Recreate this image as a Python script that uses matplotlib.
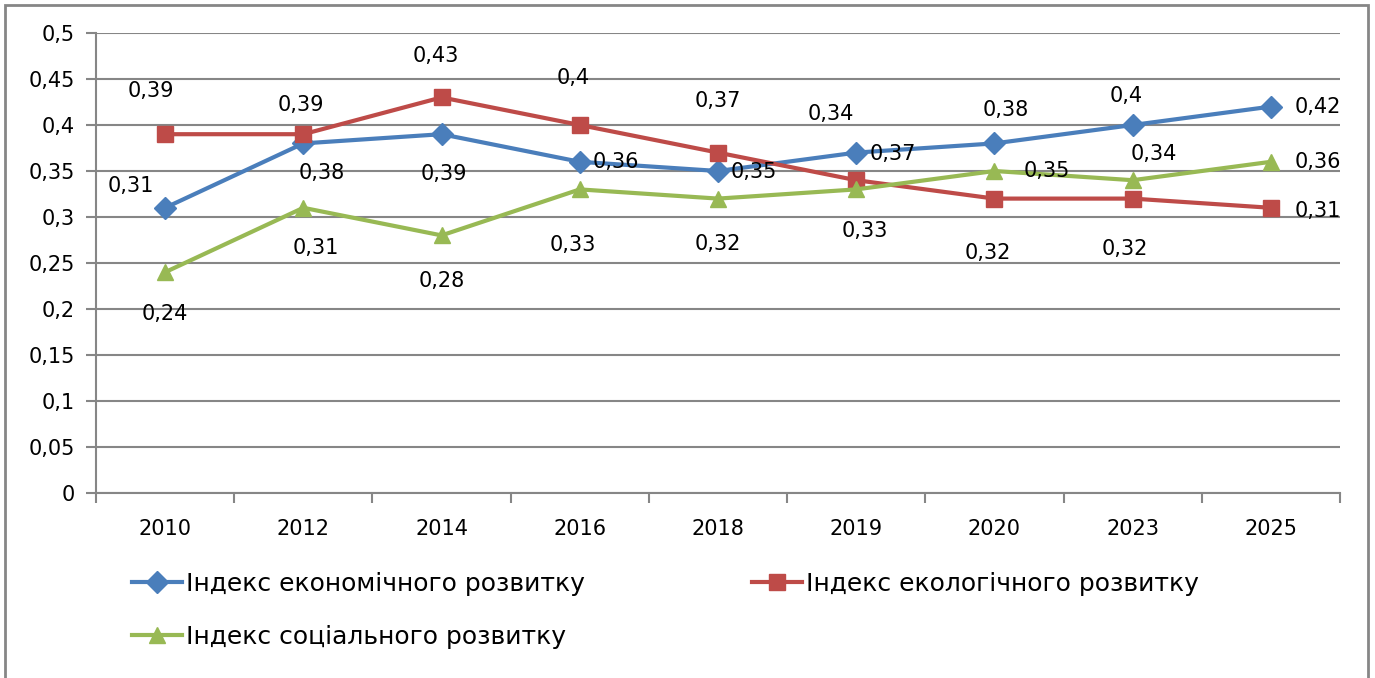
import matplotlib.pyplot as plt
from matplotlib.lines import Line2D
from matplotlib.patches import Rectangle

# Data

years = ["2010", "2012", "2014", "2016", "2018", "2019", "2020", "2023", "2025"]
econ = [0.31, 0.38, 0.39, 0.36, 0.35, 0.37, 0.38, 0.40, 0.42]
ecol = [0.39, 0.39, 0.43, 0.40, 0.37, 0.34, 0.32, 0.32, 0.31]
social = [0.24, 0.31, 0.28, 0.33, 0.32, 0.33, 0.35, 0.34, 0.36]

names = ["Індекс економічного розвитку",
         "Індекс екологічного розвитку",
         "Індекс соціального розвитку"]

# label offsets in points (dx, dy) for each point
econ_off = [(-25, 16), (13, -21), (2, -29), (26, 0), (26, -1), (26, -1), (8, 24), (-5, 21), (34, 0)]
ecol_off = [(-10, 31), (-2, 21), (-4, 30), (-5, 34), (0, 37), (-18, 48), (-5, -39), (-6, -36), (34, -2)]
soc_off = [(0, -30), (9, -29), (0, -33), (-5, -40), (0, -33), (6, -30), (38, 0), (15, 19), (34, 0)]

BLUE = "#4a7ebb"
RED = "#be4b48"
GREEN = "#98b954"
GRID = "#868686"

plt.rcParams['font.family'] = ['DejaVu Sans']

fig = plt.figure(figsize=(13.75, 6.78), dpi=100)
ax = fig.add_axes([96 / 1375, 1 - 493 / 678, (1340 - 96) / 1375, (493 - 33) / 678])

x = list(range(len(years)))
series = [(econ, BLUE, "D", 11, econ_off),
          (ecol, RED, "s", 11, ecol_off),
          (social, GREEN, "^", 12, soc_off)]

for vals, col, mk, ms, offs in series:
    ax.plot(x, vals, color=col, linewidth=3, marker=mk, markersize=ms, zorder=3)
    for xi, v, (dx, dy) in zip(x, vals, offs):
        lab = ("%g" % v).replace(".", ",")
        ax.annotate(lab, (xi, v), xytext=(dx, dy), textcoords="offset points",
                    ha="center", va="center", fontsize=15, color="black", zorder=4)

ax.set_xlim(-0.5, 8.5)
ax.set_ylim(0, 0.5)
ax.set_yticks([i * 0.05 for i in range(11)])
ax.set_yticklabels(["0", "0,05", "0,1", "0,15", "0,2", "0,25", "0,3", "0,35", "0,4", "0,45", "0,5"])
ax.set_xticks(x)
ax.set_xticklabels(years)
ax.set_xticks([i - 0.5 for i in range(len(years) + 1)], minor=True)
ax.tick_params(axis="x", which="major", length=0, pad=19, labelsize=15)
ax.tick_params(axis="x", which="minor", length=7, width=1.5, color=GRID)
ax.tick_params(axis="y", length=7, width=1.5, color=GRID, pad=8, labelsize=15)
ax.grid(axis="y", color=GRID, linewidth=1.5)
ax.set_axisbelow(True)
for s in ["top", "right"]:
    ax.spines[s].set_visible(False)
for s in ["left", "bottom"]:
    ax.spines[s].set_color(GRID)
    ax.spines[s].set_linewidth(1.5)

# legend
handles = [Line2D([], [], color=c, linewidth=3, marker=m, markersize=ms)
           for (_, c, m, ms, _) in series]
order = [0, 2, 1]
fig.legend([handles[i] for i in order], [names[i] for i in order],
           ncol=2, loc="upper left", bbox_to_anchor=(122 / 1375, 1 - 562 / 678),
           frameon=False, fontsize=18, handlelength=2.0, handletextpad=0.15,
           columnspacing=6.7, labelspacing=1.15, borderaxespad=0)

# outer frame
fig.patches.append(Rectangle((5 / 1375, -0.05), (1368 - 5) / 1375, 1.05 - 5 / 678,
                             transform=fig.transFigure, fill=False,
                             edgecolor=GRID, linewidth=2))

fig.savefig("out.png", dpi=100)
